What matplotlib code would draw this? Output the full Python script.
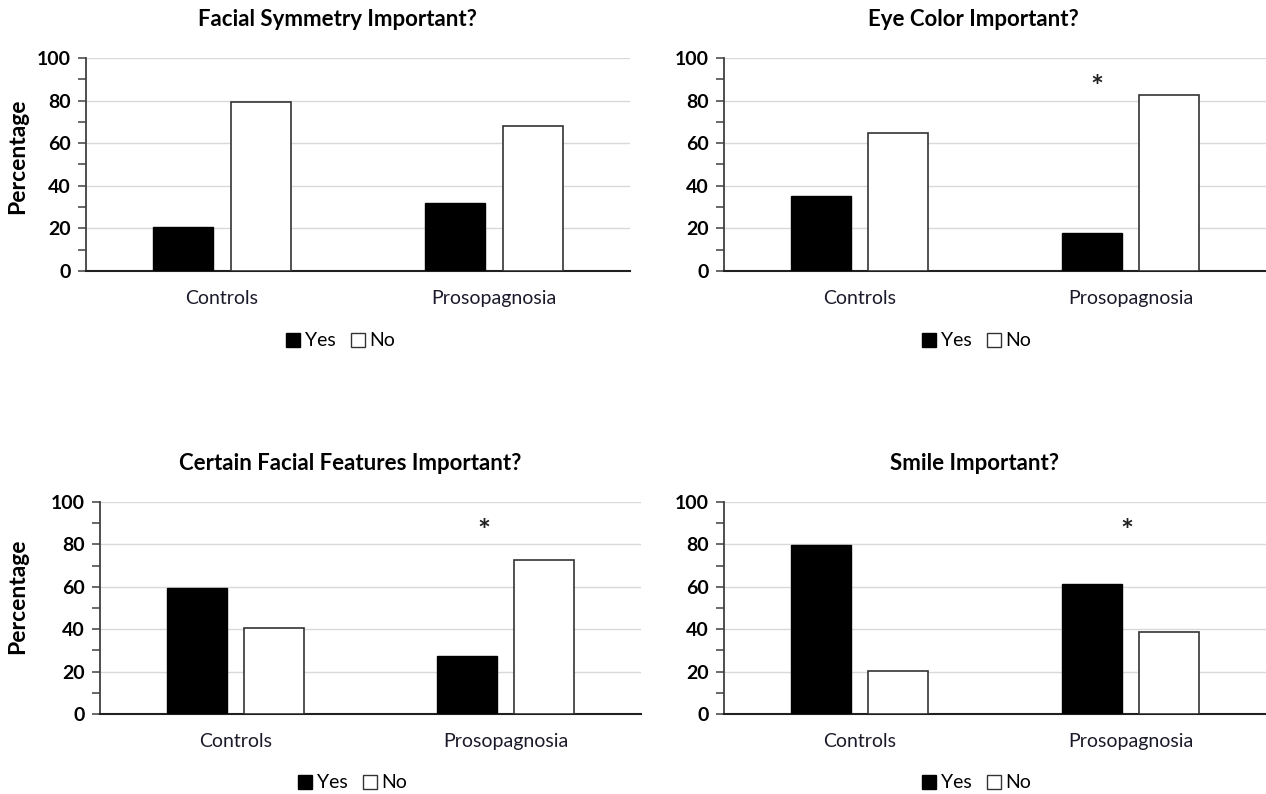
import numpy as np
import matplotlib
matplotlib.use('Agg')
import matplotlib.pyplot as plt
from matplotlib.patches import Patch
from matplotlib.ticker import MultipleLocator

plt.rcParams['font.family'] = ['Lato', 'DejaVu Sans']

groups = ['Controls', 'Prosopagnosia']
titles = ['Facial Symmetry Important?', 'Eye Color Important?',
          'Certain Facial Features Important?', 'Smile Important?']

symmetry_yes = [20.5, 31.8]
symmetry_no = [79.5, 68.2]
eye_yes = [35.3, 17.6]
eye_no = [64.7, 82.4]
features_yes = [59.4, 27.3]
features_no = [40.6, 72.7]
smile_yes = [79.7, 61.2]
smile_no = [20.3, 38.8]

yes_vals = [symmetry_yes, eye_yes, features_yes, smile_yes]
no_vals = [symmetry_no, eye_no, features_no, smile_no]
# asterisk (x in category units, y in %) or None
stars = [None, (0.876, 86), (0.918, 86), (0.987, 86)]

# axes boxes in figure fractions [left, bottom, width, height]
boxes = [[0.0679, 0.6587, 0.4297, 0.2683],
         [0.5719, 0.6587, 0.4281, 0.2683],
         [0.0790, 0.1008, 0.4273, 0.2670],
         [0.5719, 0.1008, 0.4281, 0.2670]]
title_pos = [(337, 20), (973, 20), (350, 463), (974, 463)]
legend_pos = [(341, 341), (977, 341), (353, 783), (977, 783)]
ylabel_pos = [(18, 156), None, (18, 596), None]

W, H = 1266, 794
fig = plt.figure(figsize=(W / 100, H / 100), dpi=100)

width = 0.221
off = 0.142
x = np.arange(len(groups))

for k in range(4):
    ax = fig.add_axes(boxes[k])
    ax.bar(x - off, yes_vals[k], width, color='black', edgecolor='black', linewidth=1, zorder=3)
    ax.bar(x + off, no_vals[k], width, color='white', edgecolor='#333333', linewidth=1.2, zorder=3)
    ax.set_xlim(-0.5, 1.5)
    ax.set_ylim(0, 100)
    ax.yaxis.set_major_locator(MultipleLocator(20))
    ax.yaxis.set_minor_locator(MultipleLocator(10))
    ax.grid(axis='y', which='major', color='#d9d9d9', linewidth=1, zorder=0)
    ax.set_axisbelow(True)
    for s in ['top', 'right']:
        ax.spines[s].set_visible(False)
    ax.spines['left'].set_color('#404040')
    ax.spines['left'].set_linewidth(1.3)
    ax.spines['bottom'].set_color('#202020')
    ax.spines['bottom'].set_linewidth(1.5)
    ax.tick_params(axis='y', which='both', direction='out', length=6, width=1.1,
                   color='#404040', labelsize=14, pad=5)
    ax.tick_params(axis='x', length=0, labelsize=14, pad=14, labelcolor='#1a1a2a')
    ax.set_xticks(x)
    ax.set_xticklabels(groups)
    for lab in ax.get_yticklabels():
        lab.set_fontweight('bold')
    if stars[k] is not None:
        ax.text(stars[k][0], stars[k][1], '*', ha='center', va='center',
                fontsize=22, fontweight='bold', color='#202020')

    tx, ty = title_pos[k]
    fig.text(tx / W, 1 - ty / H, titles[k], ha='center', va='center',
             fontsize=16, fontweight='bold')
    if ylabel_pos[k] is not None:
        lx, ly = ylabel_pos[k]
        fig.text(lx / W, 1 - ly / H, 'Percentage', rotation=90, ha='center', va='center',
                 fontsize=16.5, fontweight='bold')

    handles = [Patch(facecolor='black', edgecolor='black'),
               Patch(facecolor='white', edgecolor='#333333')]
    gx, gy = legend_pos[k]
    fig.legend(handles, ['Yes', 'No'], loc='center', bbox_to_anchor=(gx / W, 1 - gy / H),
               ncol=2, frameon=False, fontsize=14, handlelength=0.7, handleheight=0.7,
               handletextpad=0.25, columnspacing=0.8, borderpad=0)

fig.savefig('out.png', dpi=100)
